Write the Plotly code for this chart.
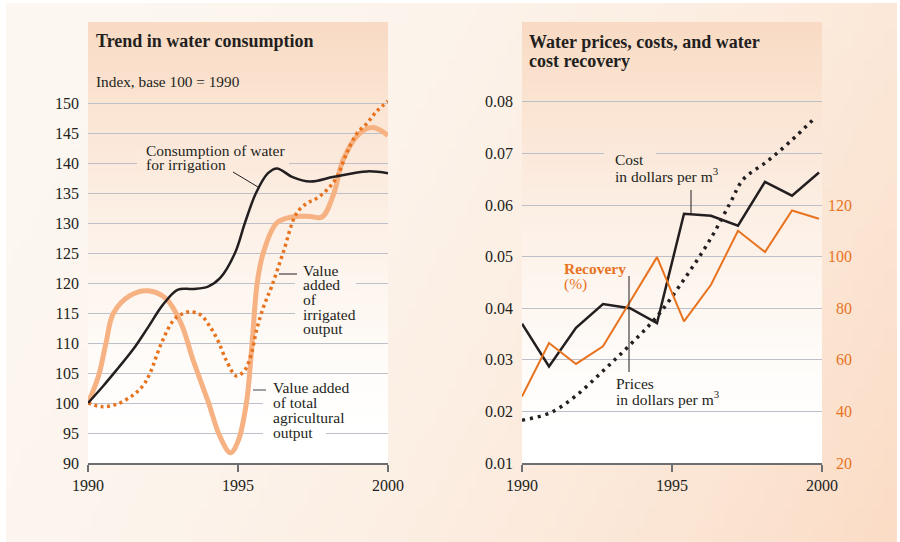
"""
Water consumption and water cost recovery, two panels
"""
import base64
import struct
import zlib

import plotly.graph_objects as go

# ---- left panel data (index, base 100 = 1990) ----
years_consumption = [1990, 1990.5, 1991, 1991.5, 1992, 1992.5, 1993, 1993.5, 1994, 1994.4,
                     1994.9, 1995.23, 1995.6, 1996, 1996.3, 1996.8, 1997.4, 1998.2, 1999.3, 2000]
consumption = [100, 102.8, 105.8, 108.9, 112.6, 116.4, 118.9, 119, 119.4, 120.8,
               125, 130, 135, 138.3, 139.1, 137.7, 136.9, 137.7, 138.6, 138.3]

years_total = [1990, 1990.35, 1990.6, 1990.85, 1991.4, 1992.0, 1992.6, 1993.1, 1993.5, 1994.0,
               1994.4, 1994.75, 1995.0, 1995.28, 1995.47, 1995.64, 1995.84, 1996.29, 1996.8,
               1997.4, 1997.8, 1998.2, 1998.5, 1999.05, 1999.5, 2000]
value_added_total = [100, 104.5, 110, 115, 117.9, 118.7, 117.4, 113.3, 107.2, 100.3,
                     94.4, 91.7, 93.6, 100, 110, 120, 125, 130, 131,
                     131.1, 131, 135, 140.5, 144.9, 145.9, 144.6]

years_irrigated = [1990, 1990.45, 1990.95, 1991.5, 1991.85, 1992.07, 1992.45, 1992.85, 1993.12,
                   1993.4, 1993.75, 1994.07, 1994.35, 1994.6, 1994.95, 1995.23, 1995.45, 1995.62,
                   1995.85, 1996.12, 1996.5, 1996.95, 1997.3, 1997.62, 1997.96, 1998.3, 1998.62,
                   1998.96, 1999.3, 1999.62, 2000]
value_added_irrigated = [100, 99.4, 99.8, 101.3, 103, 105, 110, 113.8, 114.8,
                         115.2, 114.7, 112.7, 110.2, 107.2, 104.5, 105.5, 108.3, 112.2,
                         116, 119.4, 125, 131.6, 133.3, 134.1, 135.5, 137.7, 141.6,
                         144.9, 146.6, 148.6, 150.3]

# ---- right panel data ----
years_cost = [1990, 1990.9, 1991.8, 1992.7, 1993.6, 1994.5, 1995.4, 1996.3, 1997.2, 1998.1, 1999.0, 1999.9]
cost = [0.0370, 0.0287, 0.0362, 0.0408, 0.0400, 0.0371, 0.0583, 0.0579, 0.0560, 0.0645, 0.0618, 0.0663]
recovery = [45.8, 66.5, 58.4, 65.2, 82.5, 99.8, 74.9, 89.1, 110.0, 101.8, 117.9, 114.7]

years_prices = [1990, 1990.93, 1991.77, 1992.71, 1993.6, 1994.5, 1995.44, 1996.27, 1996.94,
                1997.38, 1998.16, 1998.94, 1999.8]
prices = [0.0183, 0.0197, 0.0229, 0.0279, 0.0329, 0.0384, 0.0459, 0.0533, 0.0604,
          0.0650, 0.0684, 0.0723, 0.0771]

x_ticks = [1990, 1995, 2000]
left_ticks = list(range(90, 151, 5))
price_ticks = [0.01, 0.02, 0.03, 0.04, 0.05, 0.06, 0.07, 0.08]
recovery_ticks = [20, 40, 60, 80, 100, 120]

INK = "#231f20"
ORANGE = "#e8731f"
PEACH = "#f6b283"
GRID = "#bec0c9"
AXIS = "#6d6e71"
FONT = "Liberation Serif"

W, H = 900, 542
PLOT_TOP, PLOT_BOTTOM = 22, 463
LEFT_X0, RIGHT_X0, PANEL_W = 88, 522, 300


def png_uri(w, h, fn):
    raw = b"".join(b"\x00" + bytes(c for x in range(w) for c in fn(x, y)) for y in range(h))

    def chunk(tag, data):
        return struct.pack(">I", len(data)) + tag + data + struct.pack(">I", zlib.crc32(tag + data) & 0xffffffff)

    png = (b"\x89PNG\r\n\x1a\n" + chunk(b"IHDR", struct.pack(">IIBBBBB", w, h, 8, 2, 0, 0, 0))
           + chunk(b"IDAT", zlib.compress(raw)) + chunk(b"IEND", b""))
    return "data:image/png;base64," + base64.b64encode(png).decode()


def lerp(c0, c1, t):
    return tuple(int(round(a + (b - a) * t)) for a, b in zip(c0, c1))


def outer_color(px, py):
    t = min(1.0, 0.75 * px / W + 0.25 * py / H)
    return lerp((252, 247, 241), (251, 220, 197), t * t)


def panel_color(py):
    s = max(0.0, min(1.0, (430 - py) / (430 - PLOT_TOP)))
    return lerp((255, 255, 255), (249, 219, 196), s ** 1.3)


def rgb(c):
    return "rgb(%d,%d,%d)" % c


# pixel -> data helpers for placing labels
def lx(px):
    return 1990 + (px - LEFT_X0) / 30.0


def ly(py):
    return 90 + (PLOT_BOTTOM - py) / 6.0


def rx(px):
    return 1990 + (px - RIGHT_X0) / 30.0


def ry(py):
    return 0.01 + (PLOT_BOTTOM - py) / 5160.0


fig = go.Figure()

# left panel
fig.add_trace(go.Scatter(x=years_total, y=value_added_total, mode="lines",
                         line=dict(color=PEACH, width=5, shape="spline"), xaxis="x", yaxis="y"))
fig.add_trace(go.Scatter(x=years_irrigated, y=value_added_irrigated, mode="lines",
                         line=dict(color=ORANGE, width=3.5, shape="spline", dash="3px,3.5px"),
                         xaxis="x", yaxis="y"))
fig.add_trace(go.Scatter(x=years_consumption, y=consumption, mode="lines",
                         line=dict(color=INK, width=2.5, shape="spline"), xaxis="x", yaxis="y"))

# right panel
fig.add_trace(go.Scatter(x=years_cost, y=recovery, mode="lines",
                         line=dict(color=ORANGE, width=2), xaxis="x2", yaxis="y3"))
fig.add_trace(go.Scatter(x=years_prices, y=prices, mode="lines",
                         line=dict(color=INK, width=3.5, shape="spline", dash="3px,5px"),
                         xaxis="x2", yaxis="y2"))
fig.add_trace(go.Scatter(x=years_cost, y=cost, mode="lines",
                         line=dict(color=INK, width=2.5), xaxis="x2", yaxis="y2"))

# backgrounds as stretched gradient images
bg_x0, bg_y0, bg_x1, bg_y1 = 6, 3, 897, 542
outer_img = png_uri(90, 54, lambda i, j: outer_color(bg_x0 + (i + 0.5) / 90 * (bg_x1 - bg_x0),
                                                      bg_y0 + (j + 0.5) / 54 * (bg_y1 - bg_y0)))
panel_img = png_uri(2, 60, lambda i, j: panel_color(PLOT_TOP + (j + 0.5) / 60 * (PLOT_BOTTOM - PLOT_TOP)))

images = [dict(source=outer_img, xref="paper", yref="paper", x=bg_x0 / W, y=1 - bg_y0 / H,
               sizex=(bg_x1 - bg_x0) / W, sizey=(bg_y1 - bg_y0) / H, sizing="stretch",
               xanchor="left", yanchor="top", layer="below")]
for x0 in (LEFT_X0, RIGHT_X0):
    images.append(dict(source=panel_img, xref="paper", yref="paper", x=x0 / W, y=1 - PLOT_TOP / H,
                       sizex=PANEL_W / W, sizey=(PLOT_BOTTOM - PLOT_TOP) / H, sizing="stretch",
                       xanchor="left", yanchor="top", layer="below"))

shapes = []


def mask(panel, x0, x1, y0, y1):
    fx, fy, xr, yr = (lx, ly, "x", "y") if panel == "left" else (rx, ry, "x2", "y2")
    shapes.append(dict(type="rect", xref=xr, yref=yr, x0=fx(x0), x1=fx(x1), y0=fy(y1), y1=fy(y0),
                       fillcolor=rgb(panel_color((y0 + y1) / 2)), line_width=0, layer="between"))


def leader(panel, x0, y0, x1, y1, color=INK, width=1):
    fx, fy, xr, yr = (lx, ly, "x", "y") if panel == "left" else (rx, ry, "x2", "y2")
    shapes.append(dict(type="line", xref=xr, yref=yr, x0=fx(x0), y0=fy(y0), x1=fx(x1), y1=fy(y1),
                       line=dict(color=color, width=width)))


# gaps in the gridlines behind the labels
mask("left", 137, 289, 150, 173)
mask("left", 295, 356, 275, 292)
mask("left", 295, 388, 304, 322)
mask("left", 263, 388, 394, 412)
mask("left", 263, 326, 424, 442)
mask("right", 604, 656, 146, 163)

leader("left", 233, 172, 258, 187)
leader("left", 279, 274, 297, 274)
leader("left", 253, 390, 266, 390, color="#808285", width=1.5)
leader("right", 691, 190, 691, 214)
leader("right", 629, 276, 629, 372)

annotations = []


def label(panel, lines, px, py, size=15.5, color=INK, spacing=15):
    fx, fy, xr, yr = (lx, ly, "x", "y") if panel == "left" else (rx, ry, "x2", "y2")
    for i, text in enumerate(lines):
        annotations.append(dict(text=text, x=fx(px), y=fy(py + i * spacing), xref=xr, yref=yr,
                                xanchor="left", yanchor="middle", showarrow=False,
                                font=dict(family=FONT, size=size, color=color)))


label("left", ["<b>Trend in water consumption</b>"], 94, 41, size=18)
label("left", ["Index, base 100 = 1990"], 94, 81, size=15.3)
label("left", ["Consumption of water", "for irrigation"], 144, 150, spacing=14.5)
label("left", ["Value", "added", "of", "irrigated", "output"], 301, 270, spacing=14.7)
label("left", ["Value added", "of total", "agricultural", "output"], 271, 387, spacing=15)

label("right", ["<b>Water prices, costs, and water</b>", "<b>cost recovery</b>"], 527, 42, size=18, spacing=18.5)
label("right", ["Cost", "in dollars per m<sup>3</sup>"], 613, 159, spacing=16)
label("right", ["<b>Recovery</b>", "(%)"], 562, 268, color=ORANGE, spacing=15.5)
label("right", ["Prices", "in dollars per m<sup>3</sup>"], 614, 383, spacing=14.5)

y_domain = [(H - PLOT_BOTTOM) / H, (H - PLOT_TOP) / H]
tick_font = dict(family=FONT, size=16, color=INK)
x_common = dict(range=[1990, 2000], tickvals=x_ticks, ticks="outside", ticklen=7, tickwidth=1.5,
                tickcolor=AXIS, showline=True, linecolor=AXIS, linewidth=1.5, showgrid=False,
                zeroline=False, tickfont=tick_font, fixedrange=True, automargin=False)
y_common = dict(domain=y_domain, showgrid=True, gridcolor=GRID, gridwidth=1.3, showline=False,
                ticks="", zeroline=False, tickfont=tick_font, ticklabelstandoff=8, automargin=False)

recovery_text = [("\u2007" if v < 100 else "") + str(v) for v in recovery_ticks]

fig.update_layout(
    width=W, height=H,
    margin=dict(l=0, r=0, t=0, b=0, autoexpand=False),
    paper_bgcolor="white",
    plot_bgcolor="rgba(0,0,0,0)",
    showlegend=False,
    xaxis=dict(domain=[LEFT_X0 / W, (LEFT_X0 + PANEL_W) / W], anchor="y", **x_common),
    yaxis=dict(range=[90, ly(PLOT_TOP)], tickvals=left_ticks, anchor="x", **y_common),
    xaxis2=dict(domain=[RIGHT_X0 / W, (RIGHT_X0 + PANEL_W) / W], anchor="y2", **x_common),
    yaxis2=dict(range=[0.01, ry(PLOT_TOP)], tickvals=price_ticks, tickformat=".2f", anchor="x2", **y_common),
    yaxis3=dict(range=[20, 20 + (ry(PLOT_TOP) - 0.01) * 2000], tickvals=recovery_ticks, ticktext=recovery_text,
                overlaying="y2", side="right", anchor="x2", domain=y_domain, showgrid=False,
                showline=False, ticks="", zeroline=False, ticklabelstandoff=5, automargin=False,
                tickfont=dict(family=FONT, size=16, color=ORANGE)),
    images=images,
    shapes=shapes,
    annotations=annotations,
)

# the page body has a default 8px margin; remove it so the figure sits at the window origin
fig.write_html("out.html", config={"displayModeBar": False},
               post_script="document.body.style.margin='0';")
